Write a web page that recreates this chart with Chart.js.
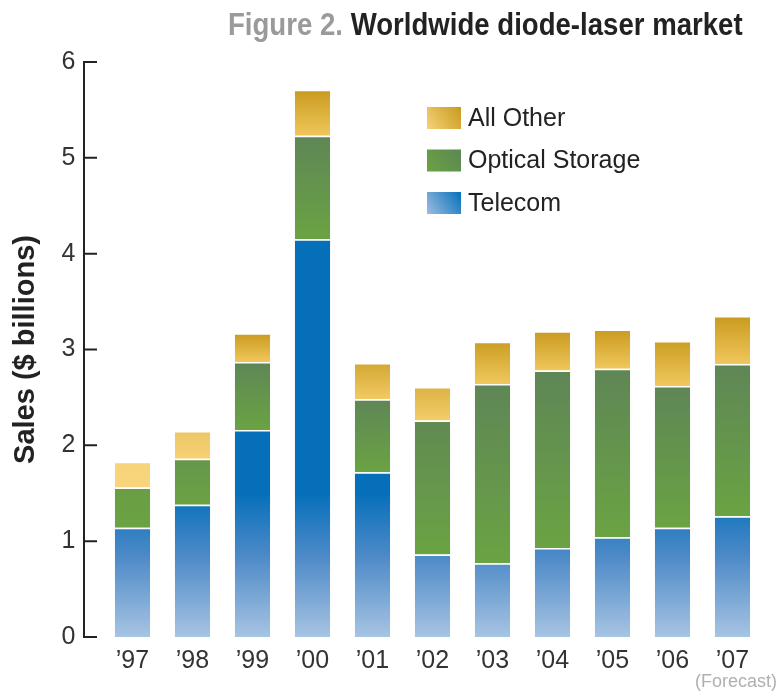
<!DOCTYPE html>
<html>
<head>
<meta charset="utf-8">
<script src="https://cdn.jsdelivr.net/npm/chart.js@4"></script>
<style>
    html, body { margin: 0; padding: 0; background: #fff; }
    #wrap { position: relative; width: 780px; height: 696px; }
    #chart { position: absolute; left: 0; top: 0; }
    #title {
        position: absolute; left: 228px; top: 9px;
        font: bold 31px "Liberation Sans", Arial, sans-serif; line-height: 31px;
        white-space: nowrap; color: #222;
        transform: scaleX(0.89); transform-origin: 0 0;
    }
    #title span { color: #9a9a9a; }
</style>
</head>
<body>
<div id="wrap">
    <canvas id="chart" width="780" height="696"></canvas>
    <div id="title"><span>Figure 2.</span> Worldwide diode-laser market</div>
</div>
<script>
const years = ['’97', '’98', '’99', '’00', '’01', '’02', '’03', '’04', '’05', '’06', '’07']
const telecom = [1.14, 1.38, 2.16, 4.15, 1.72, 0.86, 0.77, 0.93, 1.04, 1.14, 1.26]
const opticalStorage = [0.42, 0.48, 0.71, 1.08, 0.76, 1.40, 1.87, 1.85, 1.76, 1.48, 1.59]
const allOther = [0.27, 0.29, 0.30, 0.48, 0.38, 0.35, 0.44, 0.41, 0.41, 0.47, 0.50]
const yTicks = [0, 1, 2, 3, 4, 5, 6]
const forecastNote = '(Forecast)'

const FONT = '"Liberation Sans", Arial, sans-serif'

const legendShades = {
    'Telecom': ['#9dbde0', '#0670bb'],
    'Optical Storage': ['#6aa343', '#5c8654'],
    'All Other': ['#f6d27a', '#c99a1c']
}

function hex(c) { return [1, 3, 5].map(k => parseInt(c.substr(k, 2), 16)) }
function mix(a, b, t) {
    t = Math.max(0, Math.min(1, t))
    const A = hex(a), B = hex(b)
    return 'rgb(' + A.map((v, k) => Math.round(v + (B[k] - v) * t)).join(',') + ')'
}

// fill for one bar segment, start/end are the stacked values
function segmentGradient(ctx, y, label, start, end) {
    const top = y.getPixelForValue(end)
    const bottom = y.getPixelForValue(start)
    let g
    if (label === 'Telecom') {
        // fades from light at zero to full blue at ~1.5
        g = ctx.createLinearGradient(0, y.getPixelForValue(0), 0, y.getPixelForValue(1.5))
        g.addColorStop(0, '#a7c4e2')
        g.addColorStop(0.55, '#4f8bc8')
        g.addColorStop(1, '#066fba')
        return g
    }
    g = ctx.createLinearGradient(0, top, 0, bottom)
    if (label === 'Optical Storage') {
        const t = (end - 1.6) / 0.8
        g.addColorStop(0, mix('#6a9d45', '#5f8656', t))
        g.addColorStop(1, '#6aa343')
    } else {
        const t = (end - 1.85) / 1.3
        g.addColorStop(0, mix('#f7d37a', '#c99a1f', t))
        g.addColorStop(1, mix('#f8d57e', '#f0c75c', t))
    }
    return g
}

function barFill(context) {
    const chart = context.chart
    const ds = chart.data.datasets[context.datasetIndex]
    if (!chart.chartArea || !chart.scales.y) return '#888'
    const i = context.dataIndex
    let start = 0
    for (let d = 0; d < context.datasetIndex; d++) start += chart.data.datasets[d].data[i]
    return segmentGradient(chart.ctx, chart.scales.y, ds.label, start, start + ds.data[i])
}

// y axis line + inward ticks, legend, forecast note
const extras = {
    id: 'extras',
    afterDraw(chart) {
        const ctx = chart.ctx
        const y = chart.scales.y
        const axisX = chart.chartArea.left - 18.5
        ctx.save()
        ctx.strokeStyle = '#222'
        ctx.lineWidth = 2
        ctx.beginPath()
        ctx.moveTo(axisX, y.getPixelForValue(yTicks[yTicks.length - 1]) - 1)
        ctx.lineTo(axisX, y.getPixelForValue(0) + 1)
        yTicks.forEach(t => {
            const py = y.getPixelForValue(t)
            ctx.moveTo(axisX, py)
            ctx.lineTo(axisX + 13, py)
        })
        ctx.stroke()

        // legend, top to bottom in reverse stacking order
        const items = chart.data.datasets.slice().reverse()
        items.forEach((ds, k) => {
            const bx = 427, by = 107 + k * 42.5, bw = 34, bh = 22
            const c = legendShades[ds.label]
            const g = ctx.createLinearGradient(bx, by + bh, bx + bw, by)
            g.addColorStop(0, c[0])
            g.addColorStop(1, c[1])
            ctx.fillStyle = g
            ctx.fillRect(bx, by, bw, bh)
            ctx.fillStyle = '#222'
            ctx.font = '25px ' + FONT
            ctx.textBaseline = 'middle'
            ctx.textAlign = 'left'
            ctx.fillText(ds.label, 468, by + bh / 2 + 1)
        })

        ctx.fillStyle = '#b0b0b0'
        ctx.font = '18px ' + FONT
        ctx.textAlign = 'right'
        ctx.textBaseline = 'middle'
        ctx.fillText(forecastNote, 777, 682)
        ctx.restore()
    }
}

const barStyle = {
    backgroundColor: barFill,
    borderColor: 'rgba(255,255,255,0.85)',
    borderWidth: { top: 1.5, left: 0, right: 0, bottom: 0 },
    borderSkipped: false,
    categoryPercentage: 1,
    barPercentage: 0.59
}

const canvas = document.getElementById('chart').getContext('2d')

new Chart(canvas, {
    type: 'bar',
    data: {
        labels: years,
        datasets: [
            Object.assign({ label: 'Telecom', data: telecom }, barStyle),
            Object.assign({ label: 'Optical Storage', data: opticalStorage }, barStyle),
            Object.assign({ label: 'All Other', data: allOther }, barStyle)
        ]
    },
    options: {
        responsive: false,
        animation: false,
        devicePixelRatio: 1,
        layout: { padding: { top: 62, right: 17.5, bottom: 11, left: 0 } },
        plugins: {
            colors: { enabled: false },
            legend: { display: false },
            title: { display: false },
            tooltip: { enabled: false }
        },
        scales: {
            x: {
                stacked: true,
                offset: true,
                grid: { display: false, drawTicks: false },
                border: { display: false },
                ticks: { color: '#333', font: { family: FONT, size: 25 }, padding: 9, maxRotation: 0 }
            },
            y: {
                stacked: true,
                min: 0,
                max: 6,
                afterFit(scale) { scale.width = 102.5 },
                afterBuildTicks(scale) { scale.ticks = yTicks.map(v => ({ value: v })) },
                grid: { display: false, drawTicks: false },
                border: { display: false },
                ticks: { color: '#333', font: { family: FONT, size: 25 }, padding: 27 },
                title: {
                    display: true,
                    text: 'Sales ($ billions)',
                    color: '#222',
                    font: { family: FONT, size: 29, weight: 'bold', lineHeight: 1.2 },
                    padding: { top: 9, bottom: 0 }
                }
            }
        }
    },
    plugins: [extras]
})
</script>
</body>
</html>
